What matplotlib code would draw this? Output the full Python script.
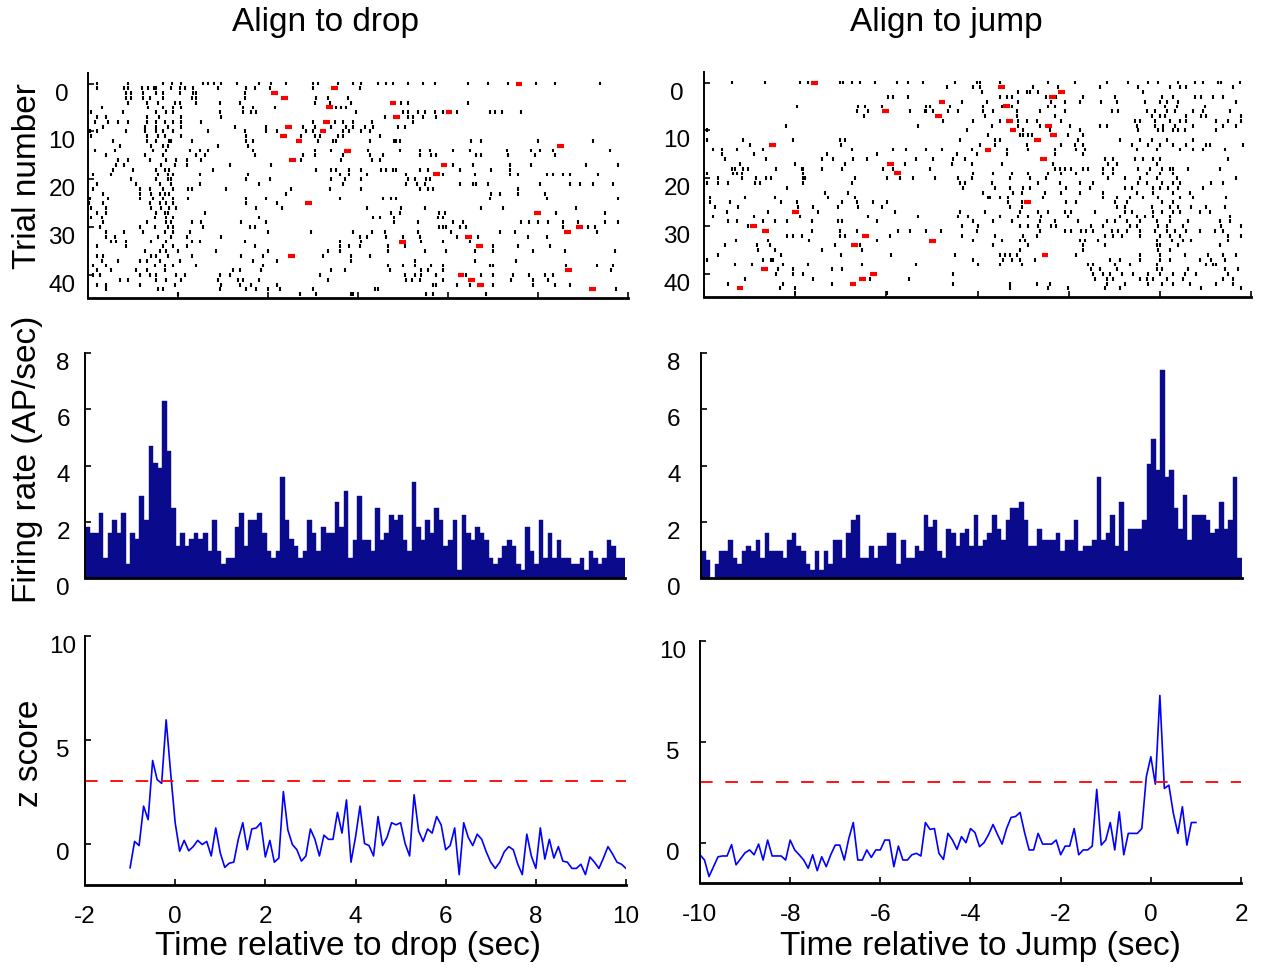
import numpy as np
import matplotlib.pyplot as plt

plt.rcParams['font.family'] = ['Liberation Sans', 'DejaVu Sans']
plt.rcParams['axes.unicode_minus'] = False

# PSTH firing rate (AP/sec), equal bins across the axis range
drop_rate = [1.8, 1.6, 1.6, 2.3, 0.7, 1.6, 2.05, 1.6, 2.3, 0.5,
             1.6, 1.4, 2.9, 2.05, 4.7, 4.1, 3.9, 6.3, 4.5, 2.5,
             1.15, 1.6, 1.15, 1.4, 1.6, 1.4, 1.6, 0.95, 2.05, 0.95,
             0.5, 0.7, 0.7, 1.8, 2.3, 1.15, 2.05, 2.05, 2.3, 1.6,
             0.95, 0.7, 0.95, 3.6, 2.05, 1.4, 1.15, 0.7, 0.95, 2.05,
             1.6, 0.95, 1.8, 1.6, 1.6, 2.7, 1.8, 3.1,
             0.7, 1.35, 2.9, 1.35, 1.35, 0.95, 2.5, 1.35, 1.6, 2.25,
             2.05, 2.25, 1.35, 0.95, 3.4, 1.8, 1.35, 2.05, 1.6, 2.5,
             2.05, 1.15, 1.35, 2.05, 0.3, 2.25, 1.6, 1.35, 1.8, 1.6,
             1.35, 0.7, 0.5, 0.7, 1.15, 1.35, 1.15, 0.5, 0.3, 1.8,
             0.95, 0.5, 2.05, 0.7, 1.6, 0.7, 1.35, 0.7, 0.7, 0.5,
             0.5, 0.7, 0.3, 0.95, 0.7, 0.5, 0.7, 1.35, 1.15, 0.7, 0.7]
jump_rate = [0.95, 0.65, 0.0, 0.5, 0.95, 0.95, 1.35, 0.7, 0.5, 0.95,
             1.15, 0.95, 1.35, 0.7, 1.6, 0.95, 0.95, 0.95, 0.7, 1.35,
             1.6, 1.15, 0.95, 0.5, 0.3, 0.95, 0.3, 0.95, 0.5, 1.35,
             1.35, 0.7, 1.6, 2.05, 2.25, 0.7, 0.7, 1.15, 0.7, 1.15,
             1.15, 1.6, 1.6, 0.5, 1.35, 0.7, 0.7, 1.15, 0.95, 2.25,
             1.8, 2.05, 0.95,
             0.7, 1.75, 1.6, 1.15, 1.6, 1.75, 1.15, 2.25, 1.15, 1.35,
             1.6, 2.25, 1.75, 1.35, 2.05, 2.5, 2.5, 2.7, 2.05, 1.15,
             1.15, 1.75, 1.35, 1.35, 1.35, 1.6, 0.95, 1.35, 1.35, 2.05,
             0.95, 1.15, 1.15, 1.35, 3.6, 1.35, 1.6, 2.25, 1.15, 2.7,
             0.95, 1.75, 1.75, 1.75, 2.05, 4.05, 4.95, 3.85, 7.4, 3.6,
             3.85, 2.5, 1.75, 2.95, 1.35, 2.25, 2.25, 2.25, 2.05, 1.6,
             1.75, 2.7, 1.75, 2.05, 3.6, 0.7]

# z score, one value every 0.1 s
drop_z_t0 = -1.0
drop_z = [-1.17, 0.1, -0.1, 1.8, 1.15, 4.0, 3.08, 2.9, 5.96, 3.4,
          1.0, -0.37, 0.15, -0.35, -0.15, 0.15, -0.05, 0.1, -0.6, 0.75,
          -0.45, -1.15, -0.95, -0.9, 0.2, 1.0, -0.3, 0.7, 0.75, 1.0,
          -0.65, 0.15, -0.9, -0.7, 2.5, 0.65, -0.05, -0.3, -0.85, -0.6,
          0.7, 0.2, -0.6, 0.4, 0.2, 0.2, 1.5, 0.5, 2.1, -0.9,
          0.3, 1.8, 0.0, -0.1, -0.6, 1.3, -0.1, 0.3, 1.0, 0.9,
          1.0, 0.0, -0.6, 2.35, 0.6, 0.1, 0.7, 0.5, 1.3, 0.9,
          -0.3, -0.1, 0.75, -1.5, 1.0, 0.3, -0.1, 0.45, 0.2, -0.4,
          -0.9, -1.2, -0.9, -0.4, -0.15, -0.3, -1.0, -1.5, 0.45, -0.6,
          -1.2, 0.75, -0.75, 0.2, -0.7, -0.15, -0.85, -0.9, -1.2, -1.2,
          -1.0, -1.5, -0.65, -0.9, -1.2, -0.7, -0.15, -0.5, -0.9, -1.0, -1.2]
jump_z_t0 = -10.0
jump_z = [-0.6, -0.86, -1.68, -1.19, -0.7, -0.66, -0.66, -0.1, -1.1, -0.8,
          -0.5, -0.36, -0.6, -0.07, -0.86, 0.13, -0.66, -0.66, -0.66, -0.86,
          0.13, -0.36, -0.6, -0.86, -1.27, -0.6, -1.39, -0.7, -1.19, -0.6,
          -0.12, -0.12, -0.86, 0.2, 1.0, -0.86, -0.86, -0.36, -0.73, -0.36,
          -0.36, 0.13, 0.13, -1.19, -0.17, -0.86, -0.86, -0.6, -0.53, -0.66,
          1.0, 0.66, 0.7, -0.53, -0.83, 0.46, 0.13, -0.33,
          0.3, 0.0, 0.7, 0.5, -0.2, 0.0, 0.4, 0.9, 0.4, -0.07,
          0.7, 1.25, 1.3, 1.5, 0.5, -0.36, -0.36, 0.46, -0.07, -0.07,
          -0.07, 0.13, -0.6, -0.17, -0.17, 0.7, -0.6, -0.36, -0.36, -0.17,
          2.64, -0.12, 0.13, 1.0, -0.36, 1.53, -0.6, 0.46, 0.46, 0.46,
          0.7, 3.27, 4.26, 2.9, 7.3, 2.69, 2.85, 1.45, 0.46, 1.78,
          -0.12, 1.0, 1.0]
z_threshold = 3

# drop -> jump latency per trial (sec), nan where no mark
latency = [7.58, 3.47, 2.15, 2.36, 4.78, 3.36, 6.02, 4.85, 3.3, 2.45,
           3.22, 2.34, 2.69, 8.5, 3.77, np.nan, 2.55, 5.91, np.nan, 5.75,
           np.nan, np.nan, np.nan, np.nan, np.nan, 2.9, np.nan, 7.99, np.nan, np.nan,
           8.92, 8.65, 6.46, 4.99, 6.7, np.nan, 2.52, np.nan, np.nan, 8.68,
           6.29, 6.52, 6.73, 9.21, np.nan]

# spike times per trial (sec), aligned to drop
drop_spikes = [
    [-1.81, -1.11, -0.33, -0.13, 0.07, 0.56, 0.67, 0.81, 0.96, 1.30, 1.81, 2.07, 2.41,
     3.0, 3.11, 3.56, 3.89, 4.07, 4.44, 4.63, 4.78, 5.11, 5.44, 5.70, 6.44, 6.89, 7.33, 7.96, 8.37, 9.37],
    [-1.81, -1.21, -1.11, -0.81, -0.67, -0.54, -0.48, -0.15, 0.04, 0.15, 0.33, 0.89, 1.52, 1.70, 2.04, 3.0, 4.04],
    [-1.15, -1.04, -0.78, -0.48, -0.33, 0.04, 0.33, 0.41, 1.48],
    [-1.15, -1.04, -0.78, -0.63, -0.33, 0.30, 0.41, 1.48, 2.30, 3.07, 3.33, 3.78],
    [-1.11, -0.70, -0.44, -0.07, 0.04, 0.41, 0.93, 1.37, 3.04, 3.37, 3.85, 4.96, 5.11, 6.44],
    [-1.70, -0.67, -0.33, -0.11, 0.07, 1.44, 1.67, 2.15, 3.52, 3.63, 3.74],
    [-1.93, -1.22, -0.48, -0.26, -0.11, 0.93, 1.44, 1.63, 1.74, 3.96, 5.0, 5.11, 5.33, 5.48, 5.70,
     5.89, 6.19, 6.93, 7.04, 7.19, 7.63],
    [-1.81, -1.59, -0.70, -0.42, 0.07, 0.96, 4.59, 5.11, 5.22, 5.44, 5.74],
    [-1.85, -1.56, -1.33, -1.11, -0.70, -0.48, -0.30, -0.11, 0.07, 0.52, 3.0, 3.48, 3.67, 3.89, 4.30, 5.22],
    [-1.67, -0.74, -0.48, -0.22, 0.07, 1.26, 1.96, 2.78, 3.04, 3.41, 3.74, 3.89, 4.15, 4.33, 4.89, 5.04],
    [-1.96, -1.81, -1.15, -0.74, -0.48, -0.33, -0.11, 0.67, 1.48, 1.96, 2.19, 2.85, 3.0, 3.67, 3.81, 4.07, 4.26],
    [-1.93, -0.70, -0.44, -0.30, 0.07, 1.52, 2.74, 3.04, 3.15, 3.56, 3.67, 4.48],
    [-1.44, -0.70, -0.48, -0.19, -0.15, 0.30, 1.52, 1.67, 3.11, 3.44, 3.52, 4.26, 4.81, 4.85, 4.93,
     6.52, 6.74, 8.0, 9.22],
    [-1.30, -0.59, -0.33, -0.22, 0.89, 1.56],
    [-1.85, -1.41, -0.56, -0.26, 0.26, 0.48, 0.67, 1.67, 3.04, 3.41, 4.22, 4.93, 5.37, 5.59, 6.11,
     6.48, 7.30, 7.85, 8.04, 8.33, 9.59],
    [-1.59, -0.74, -0.33, 0.41, 0.59, 1.70, 2.78, 3.04, 3.67, 4.26, 4.56, 5.37, 5.63, 5.74, 6.63,
     6.74, 7.33, 7.93, 8.37],
    [-1.33, -1.11, -0.63, -0.26, -0.04, 0.19, 0.52, 2.74, 3.63, 4.30, 4.48],
    [-1.37, -1.19, -0.37, -0.07, 0.19, 1.15, 2.07, 6.11, 6.56, 7.37, 7.85, 9.07, 9.78],
    [-1.44, -1.0, -0.48, -0.30, -0.19, 0.78, 3.07, 3.41, 3.52, 3.81, 4.07, 4.52, 4.63, 4.78, 4.85,
     5.37, 5.56, 6.26, 6.96, 7.37],
    [-1.89, -1.48, -0.44, -0.22, -0.11, 0.48, 1.56, 3.59, 3.81, 4.19, 5.07, 5.89, 6.59, 7.37, 7.56,
     8.19, 8.33, 8.56, 8.70, 9.33],
    [-1.04, -0.48, -0.22, -0.15, 1.52, 2.04, 3.41, 3.70, 4.07, 5.11, 5.26, 5.52, 5.59],
    [-1.81, -0.93, -0.41, -0.15, 0.48, 1.81, 3.67, 5.07, 5.30, 5.48, 6.26, 6.56, 6.63, 6.89, 8.04,
     8.70, 8.93, 9.22, 9.67],
    [-1.89, -0.85, -0.63, -0.33, -0.11, 0.22, 0.30, 1.07, 2.52, 3.37, 4.07, 5.37, 5.56, 5.67, 7.56],
    [-1.67, -0.85, -0.59, -0.41, -0.30, -0.19, 2.41, 6.96, 7.15, 7.56, 8.15],
    [-1.96, -1.56, -0.85, -0.56, -0.33, -0.11, 0.22, 1.52, 1.96, 3.59, 4.56, 4.74, 4.85, 6.93, 8.19, 9.78],
    [-1.98, -1.67, -0.63, -0.41, -0.26, -0.11, 1.52, 2.19],
    [-1.93, -1.59, -0.59, -0.37, -0.19, -0.04, 1.74, 2.30, 4.19, 4.96, 5.48, 6.74, 7.22, 8.85],
    [-1.81, -1.59, -0.48, -0.30, -0.22, 0.59, 4.74, 4.93, 5.81, 5.93, 8.41, 9.48],
    [-1.93, -1.70, -0.52, -0.26, -0.11, 1.81, 4.33, 4.48, 4.81, 5.78, 5.89],
    [-1.67, -0.70, -0.26, -0.15, 0.30, 0.52, 1.41, 1.96, 4.81, 5.33, 6.11, 6.33, 7.63, 7.81, 8.0,
     8.22, 8.56, 8.89, 9.48, 9.78],
    [-1.74, -0.85, -0.52, -0.22, -0.11, 0.56, 1.59, 1.70, 5.81, 5.89, 5.96, 6.26, 6.41, 8.56, 9.11, 9.26],
    [-1.59, -1.19, -0.78, -0.30, -0.11, 0.26, 2.0, 2.96, 3.89, 4.30, 4.59, 5.33, 6.07, 7.15, 7.48, 9.30],
    [-1.59, -1.41, -0.44, -0.15, 0.19, 0.96, 4.04, 4.19, 4.63, 5.0, 5.37, 6.19, 6.67, 7.78, 8.19],
    [-1.48, -1.37, -1.15, -0.59, -0.26, 0.30, 0.48, 1.48, 3.59, 4.07, 5.41, 5.89, 6.48],
    [-1.81, -1.15, -0.33, -0.11, 0.19, 1.70, 3.59, 3.81, 4.04, 4.67, 5.04, 7.0, 7.56, 8.26],
    [-0.74, -0.41, -0.26, 0.0, 0.85, 2.0, 3.33, 3.59, 4.67, 5.48, 5.96, 6.59, 7.0, 7.89, 8.59, 9.70],
    [-1.81, -1.67, -0.59, -0.48, -0.22, 0.30, 1.41, 1.89, 3.22, 3.85, 4.26],
    [-1.70, -1.33, -0.85, -0.70, -0.41, 0.04, 1.67, 2.19, 3.85, 5.26, 6.59, 7.52],
    [-1.89, -1.59, -0.52, -0.30, -0.11, 0.41, 1.89, 4.67, 5.0, 5.26, 5.63, 5.89, 6.93, 7.0, 8.63,
     9.30, 9.67],
    [-1.81, -1.48, -0.93, -0.70, -0.30, 1.22, 1.37, 1.85, 3.41, 3.70, 4.70, 5.41, 5.56, 5.89, 9.63],
    [-1.89, -1.74, -0.85, -0.63, -0.48, -0.04, 0.15, 0.93, 1.15, 3.15, 5.04, 5.26, 5.41, 5.74, 6.41,
     6.74, 7.0, 7.44, 7.81, 8.15, 8.33],
    [-1.30, -1.11, -0.48, -0.26, 0.07, 0.89, 1.33, 1.44, 1.81, 3.33, 5.07, 5.19, 5.37, 5.89, 7.41,
     7.89, 8.22],
    [-1.81, -1.59, -0.85, -0.07, 0.96, 1.37, 1.63, 2.19, 5.67, 5.74, 6.19, 6.48, 7.0, 7.89, 8.37, 8.70],
    [-1.59, -0.44, -0.33, 0.93, 1.52, 1.74, 2.0, 2.26, 3.0, 4.37, 4.44, 9.74],
    [0.0, 2.70, 3.07, 3.85, 3.89, 5.52, 5.67, 6.85],
]

# spike times per trial (sec), aligned to jump
jump_spikes = [
    [-9.39, -8.66, -7.89, -7.71, -7.02, -6.94, -6.76, -6.58, -6.25, -5.77, -5.52, -5.19, -4.50, -4.02,
     -3.95, -3.51, -2.45, -1.86, -1.17, -0.69, -0.26, -0.04, 0.40, 0.77, 0.95, 1.28, 1.35, 1.75],
    [-4.68, -4.09, -3.95, -2.78, -2.23, -1.32, -0.48, 0.22, 0.44, 0.58, 1.61],
    [-3.91, -3.11, -2.92, -2.85, -2.67, -0.37],
    [-5.96, -5.85, -5.52, -3.51, -3.36, -3.25, -2.49, -2.27, -1.68, -0.99, 0.04, 0.29, 0.77, 0.91,
     1.17, 1.39],
    [-4.35, -3.80, -3.11, -2.38, -2.08, -1.75, -1.28, -0.95, -0.33, 0.0, 0.15, 0.40, 1.68],
    [-7.97, -6.62, -6.47, -6.10, -5.12, -5.04, -4.61, -3.87, -3.47, -3.25, -2.45, -2.30, 0.11, 0.37, 0.99],
    [-6.65, -6.40, -5.48, -5.15, -5.12, -4.97, -4.64, -4.42, -3.87, -3.65, -3.14, -2.63, -2.08, -1.06,
     -0.91, -0.29, -0.11, 0.15, 0.33, 0.73, 0.95, 1.54],
    [-6.5, -3.84, -3.14, -2.30, -0.18, 0.0, 0.11, 0.58, 0.91, 1.02, 1.79],
    [-4.75, -4.09, -3.51, -3.11, -2.92, -2.70, -2.16, -0.55, -0.44, -0.11, 0.22, 0.44, 0.58, 1.24, 1.50, 1.79],
    [-8.2, -5.3, -3.69, -3.11, -2.63, -1.97, -1.32, -1.17, -0.51, -0.11, 0.07, 0.33, 0.73, 1.39, 1.68],
    [-9.94, -4.24, -3.0, -2.41, -1.75, -0.48, -0.04, 0.07, 0.29, 0.40, 0.55, 1.24],
    [-3.76, -3.07, -3.0, -2.89, -2.81, -2.01, -1.68],
    [-9.94, -9.14, -8.04, -7.02, -6.91, -4.39, -3.62, -3.51, -1.79, -0.88, -0.44, -0.18, 0.15, 0.73],
    [-9.0, -7.0, -3.95, -3.62, -2.92, -2.16, -1.86, -1.68, -0.62, -0.26, 0.0, 0.29, 0.58, 1.02, 1.10, 1.83],
    [-9.80, -9.61, -9.28, -8.70, -6.76, -5.85, -5.56, -5.12, -4.77, -4.13, -3.36, -2.89, -2.30, -1.83,
     -1.64, -0.51, -0.07, 0.44, 0.73, 0.95, 1.43],
    [-9.6, -8.9, -7.3, -6.2, -4.46, -4.02, -3.36, -2.30, -1.68],
    [-9.54, -8.63, -7.42, -7.16, -6.73, -6.43, -5.34, -4.97, -4.53, -4.28, -1.21, -1.02, -0.55, -0.37,
     -0.15, 0.0, 1.50],
    [-9.2, -8.0, -6.9, -5.6, -4.57, -4.13, -3.47, -2.34, -1.13, -0.95, -0.07],
    [-9.39, -9.32, -9.14, -9.03, -8.41, -7.86, -7.82, -7.42, -6.98, -6.07, -5.85, -5.04, -2.30, -2.19,
     -2.08, -1.94, -1.68, -1.57, -1.24, -1.02, -0.48, -0.22, 0.04, 0.22, 0.29, 0.62, 1.32],
    [-9.94, -9.36, -9.28, -9.17, -7.82, -4.09, -3.65, -3.25, -2.89, -2.45, -2.16, -1.83, -1.24, -1.02,
     -0.29, 0.0, 0.29],
    [-9.69, -9.17, -8.85, -8.63, -8.52, -7.82, -7.79, -6.69, -5.99, -5.70, -5.41, -4.93, -4.42, -4.13,
     -3.29, -2.85, -2.49, -1.13, -0.77, -0.44, -0.07, 0.37, 1.68],
    [-9.94, -9.69, -9.47, -8.88, -8.77, -7.82, -6.76, -4.39, -4.28, -3.69, -2.67, -2.19, -1.75, -1.46,
     -0.48, -0.29, 0.04, 0.29, 0.44, 1.13, 1.39],
    [-8.19, -4.31, -3.62, -3.29, -3.0, -2.85, -2.05, -1.54, -0.77, -0.62, -0.15, 0.0, 0.18, 0.40, 0.95],
    [-7.35, -6.83, -3.87, -3.22, -3.03, -2.52, -2.16, -1.75, -1.24, -0.51, -0.15, 0.29, 0.66],
    [-9.87, -9.1, -8.44, -7.28, -6.69, -3.76, -3.73, -3.51, -3.33, -2.56, -1.24, -0.95, -0.66, -0.37,
     -0.04, 0.44, 0.73, 1.46],
    [-9.87, -9.43, -8.30, -7.97, -6.98, -6.65, -6.29, -5.99, -3.33, -3.03, -2.05, -1.83, -0.99, -0.73,
     0.04, 0.29],
    [-9.76, -9.25, -7.93, -7.60, -7.05, -6.62, -6.10, -3.29, -3.03, -0.95, -0.77, -0.18, 0.22, 0.40,
     0.69, 1.02, 1.43],
    [-9.5, -8.6, -7.5, -5.8, -4.39, -3.84, -3.07, -2.67, -2.45, -2.08, -1.94, -1.43, -0.77, -0.62,
     -0.15, 0.04, 0.29, 0.44, 0.88, 1.10],
    [-9.8, -8.9, -7.9, -6.4, -5.3, -4.42, -4.20, -3.51, -3.11, -2.89, -2.60, -2.01, -0.88, -0.51,
     -0.33, -0.15, 0.22, 1.54],
    [-9.47, -9.27, -8.70, -8.44, -8.19, -7.64, -7.05, -6.98, -6.21, -4.09, -3.65, -3.25, -2.63, -2.30,
     -1.79, -1.17, -0.99, -0.73, -0.44, -0.07, 0.22, 0.62, 1.32, 1.54],
    [-9.03, -4.35, -3.98, -3.07, -2.89, -2.67, -2.38, -2.27, -1.50, -1.24, -0.66, -0.51, -0.04, 0.15,
     0.51, 1.35, 1.79],
    [-7.64, -7.02, -6.65, -5.74, -5.48, -5.12, -4.79, -4.02, -2.63, -2.08, -1.94, -1.72, -1.61, -1.46,
     -1.06, -0.91, -0.73, -0.44, -0.11, 0.15, 0.33, 0.58, 0.88, 1.21, 1.39],
    [-8.19, -8.04, -7.86, -7.02, -6.91, -5.92, -4.35, -3.62, -3.0, -2.70, -1.21, -1.02, -0.84, -0.44,
     0.0, 0.22, 0.44, 1.50, 1.79],
    [-9.3, -8.6, -7.7, -6.2, -4.09, -3.47, -3.07, -2.96, -1.75, -1.64, -1.35, -0.07, 0.26, 0.51, 0.69, 1.50],
    [-9.54, -8.84, -8.55, -7.13, -6.58, -3.65, -2.89, -1.68, -1.21, -0.07, 0.0, 0.40, 1.32],
    [-8.81, -8.44, -7.42, -6.54, -3.07, -1.68, -0.04, 0.22],
    [-9.7, -8.3, -7.0, -5.9, -4.50, -3.51, -3.40, -3.29, -3.14, -1.83, -0.44, 0.0, 0.55, 1.06, 1.39, 1.68],
    [-9.94, -8.70, -8.52, -8.48, -4.09, -3.44, -3.25, -3.07, -2.74, -1.10, -0.88, -0.44, 0.0, 0.22,
     0.88, 1.13, 1.43],
    [-9.32, -8.95, -8.26, -7.71, -6.54, -5.34, -3.98, -3.51, -3.03, -1.57, -1.46, -0.99, -0.66, -0.07,
     1.02, 1.17, 1.24],
    [-8.37, -8.04, -7.20, -6.98, -1.50, -1.32, -0.95, -0.07, 0.04, 0.62, 1.43, 1.72],
    [-8.41, -8.04, -7.82, -4.53, -1.46, -1.24, -1.10, -0.84, -0.58, -0.26, 0.0, 0.29, 0.55, 0.80, 1.50],
    [-9.1, -7.6, -6.36, -5.5, -1.43, -1.17, -1.02, -0.44, -0.29, -0.15, 0.15, 0.51, 1.39, 1.61],
    [-9.47, -8.26, -7.20, -4.53, -3.29, -2.70, -2.41, -1.17, -0.77, -0.26, 0.04, 0.29, 0.66, 1.24, 1.61],
    [-8.33, -8.0, -3.29, -2.45, -2.01, -1.21, -0.88, 0.91, 1.79],
    [-8.0, -5.99],
]

W, H = 1264, 968


def box(x0, y0, x1, y1):
    return [x0 / W, 1 - y1 / H, (x1 - x0) / W, (y1 - y0) / H]


def style(ax, pad_px):
    ax.spines['top'].set_visible(False)
    ax.spines['right'].set_visible(False)
    ax.spines['left'].set_linewidth(1.4)
    ax.spines['bottom'].set_linewidth(2.0)
    ax.tick_params(direction='in', length=4, width=1.2, labelsize=17.5,
                   colors='black')
    ax.tick_params(axis='y', pad=pad_px * 0.72)
    ax.tick_params(axis='x', pad=15)


fig = plt.figure(figsize=(W / 100, H / 100), dpi=100)

panels = [
    (drop_spikes, 1, drop_rate, drop_z_t0, drop_z, (-2, 10),
     box(88, 73, 628, 298), box(85, 353, 625, 578), box(85, 636, 626, 885), 26, 22),
    (jump_spikes, -1, jump_rate, jump_z_t0, jump_z, (-10, 2),
     box(704, 72, 1251, 297), box(701, 353, 1242, 578), box(700, 641, 1241, 883), 27, 27),
]

for spikes, sign, rate, z_t0, z, xr, rb, hb, zb, padr, padh in panels:
    # raster
    ax = fig.add_axes(rb)
    for trial, times in enumerate(spikes):
        ax.vlines(times, trial - 0.4, trial + 0.4, color='black', lw=1.5)
    lat = np.array(latency)
    ok = ~np.isnan(lat)
    trials = np.arange(len(lat))[ok]
    ax.hlines(trials, sign * lat[ok] - 0.075, sign * lat[ok] + 0.075,
              color='red', lw=3.0, capstyle='butt', zorder=3)
    ax.set_xlim(*xr)
    ax.set_ylim(44.8, -2.2)
    ax.set_yticks([0, 10, 20, 30, 40])
    ax.set_xticks(np.arange(xr[0], xr[1] + 1, 2))
    style(ax, padr)
    ax.tick_params(axis='x', labelbottom=False)
    plt.setp(ax.get_yticklabels(), ha='center', va='top')

    # firing rate histogram
    ax = fig.add_axes(hb)
    edges = np.linspace(xr[0], xr[1], len(rate) + 1)
    ax.bar(edges[:-1], rate, width=np.diff(edges), align='edge',
           color='#0a0a8c', edgecolor='#0a0a8c', lw=0.3)
    ax.set_xlim(*xr)
    ax.set_ylim(0, 8)
    ax.set_yticks([0, 2, 4, 6, 8])
    ax.set_xticks([])
    style(ax, padh)
    plt.setp(ax.get_yticklabels(), ha='center', va='top')

    # z score
    ax = fig.add_axes(zb)
    t = z_t0 + 0.1 * np.arange(len(z))
    ax.plot(t, z, color='#0000ff', lw=1.2)
    ax.axhline(z_threshold, color='red', lw=1.3, dashes=(7, 7))
    ax.set_xlim(*xr)
    ax.set_ylim(-2, 10)
    ax.set_yticks([0, 5, 10])
    ax.set_xticks(np.arange(xr[0], xr[1] + 1, 2))
    style(ax, padh)
    plt.setp(ax.get_yticklabels(), ha='center', va='top')

fs = 24
fig.text(326 / W, 1 - 23 / H, 'Align to drop', ha='center', va='center', fontsize=fs)
fig.text(946 / W, 1 - 23 / H, 'Align to jump', ha='center', va='center', fontsize=fs)
fig.text(348 / W, 1 - 947 / H, 'Time relative to drop (sec)', ha='center', va='center', fontsize=fs)
fig.text(980 / W, 1 - 947 / H, 'Time relative to Jump (sec)', ha='center', va='center', fontsize=fs)
fig.text(28 / W, 1 - 176 / H, 'Trial number', rotation=90, ha='center', va='center', fontsize=fs)
fig.text(28 / W, 1 - 459 / H, 'Firing rate (AP/sec)', rotation=90, ha='center', va='center', fontsize=fs)
fig.text(29 / W, 1 - 753 / H, 'z score', rotation=90, ha='center', va='center', fontsize=fs)

fig.savefig('out.png', dpi=100)
